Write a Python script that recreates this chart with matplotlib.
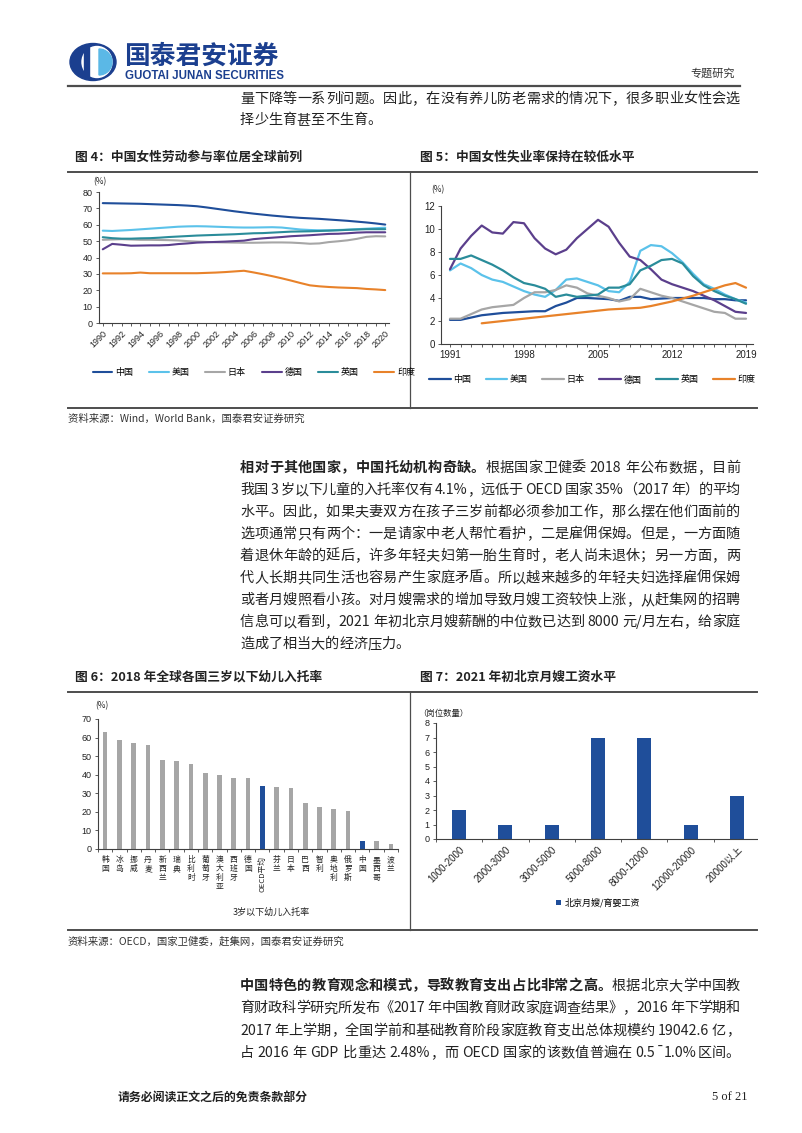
import matplotlib
matplotlib.use("Agg")
import matplotlib.pyplot as plt
from matplotlib.patches import Patch, Rectangle, Ellipse, Wedge
from matplotlib.font_manager import FontProperties, findfont, get_font

plt.rcParams["font.family"] = ["Liberation Sans", "Noto Sans CJK SC", "DejaVu Sans"]
plt.rcParams["axes.unicode_minus"] = False

W, H, DPI = 802, 1133, 100
CJK = ["Noto Sans CJK SC", "DejaVu Sans"]
TXT = "#222222"
NAVY = "#1B3F8F"

# ── 图4：女性劳动参与率 (%) ──────────────────────────────
years4 = list(range(1990, 2021))
china4 = [73.2, 73.1, 73.0, 72.9, 72.8, 72.6, 72.4, 72.2, 72.0, 71.7, 71.3, 70.6, 69.8, 69.0, 68.2,
          67.5, 66.8, 66.2, 65.6, 65.1, 64.6, 64.2, 63.9, 63.6, 63.2, 62.8, 62.4, 61.9, 61.4, 60.8, 60.1]
us4 = [56.4, 56.2, 56.5, 56.8, 57.2, 57.6, 58.0, 58.4, 58.8, 59.0, 59.1, 59.0, 58.8, 58.6, 58.4,
       58.3, 58.3, 58.4, 58.5, 58.3, 57.7, 57.1, 56.8, 56.6, 56.6, 56.8, 57.0, 57.3, 57.6, 57.9, 58.2]
japan4 = [50.8, 51.0, 51.2, 51.0, 50.8, 50.8, 50.7, 50.6, 50.4, 50.0, 49.7, 49.5, 49.3, 49.2, 49.1,
          49.0, 49.0, 49.1, 49.2, 49.2, 49.1, 48.8, 48.4, 48.6, 49.4, 49.9, 50.5, 51.4, 52.6, 53.0, 52.9]
germany4 = [45.0, 48.3, 47.8, 47.2, 47.3, 47.4, 47.4, 47.6, 48.2, 48.6, 49.1, 49.3, 49.5, 49.7, 50.0,
            50.3, 51.2, 51.7, 52.1, 52.5, 53.0, 53.3, 53.6, 54.0, 54.4, 54.5, 54.8, 55.2, 55.4, 55.4, 55.4]
uk4 = [52.4, 51.8, 51.5, 51.5, 51.7, 51.8, 52.1, 52.5, 52.8, 53.1, 53.4, 53.6, 53.8, 54.0, 54.2,
       54.5, 54.8, 54.9, 55.2, 55.5, 55.8, 55.9, 56.0, 56.2, 56.4, 56.6, 56.9, 57.1, 57.3, 57.3, 57.3]
india4 = [30.3, 30.3, 30.3, 30.4, 30.8, 30.4, 30.4, 30.4, 30.4, 30.4, 30.4, 30.6, 30.8, 31.1, 31.5,
          31.9, 30.9, 29.8, 28.6, 27.3, 25.9, 24.4, 23.0, 22.4, 22.0, 21.7, 21.5, 21.3, 20.8, 20.5, 20.1]

# ── 图5：女性失业率 (%) ──────────────────────────────────
years5 = list(range(1991, 2020))
china5 = [2.1, 2.1, 2.3, 2.5, 2.6, 2.7, 2.75, 2.8, 2.85, 2.85, 3.3, 3.6, 4.0, 4.0, 3.95,
          3.9, 3.75, 4.1, 4.1, 3.9, 3.95, 4.0, 4.0, 4.0, 4.0, 3.9, 3.9, 3.8, 3.8]
us5 = [6.4, 7.0, 6.6, 6.0, 5.6, 5.4, 5.0, 4.6, 4.3, 4.1, 4.7, 5.6, 5.7, 5.4, 5.1,
       4.6, 4.5, 5.4, 8.1, 8.6, 8.5, 7.9, 7.1, 6.1, 5.2, 4.8, 4.3, 3.9, 3.6]
japan5 = [2.2, 2.2, 2.6, 3.0, 3.2, 3.3, 3.4, 4.0, 4.5, 4.5, 4.7, 5.1, 4.9, 4.4, 4.2,
          4.0, 3.7, 3.9, 4.8, 4.5, 4.2, 4.0, 3.7, 3.4, 3.1, 2.8, 2.7, 2.2, 2.2]
germany5 = [6.5, 8.3, 9.4, 10.3, 9.7, 9.6, 10.6, 10.5, 9.2, 8.3, 7.8, 8.2, 9.2, 10.0, 10.8,
            10.2, 8.8, 7.6, 7.3, 6.5, 5.6, 5.2, 4.9, 4.6, 4.2, 3.8, 3.3, 2.8, 2.7]
uk5 = [7.4, 7.4, 7.7, 7.3, 6.9, 6.4, 5.8, 5.3, 5.1, 4.8, 4.1, 4.3, 4.1, 4.2, 4.3,
       4.9, 4.9, 5.2, 6.4, 6.8, 7.3, 7.4, 7.0, 5.9, 5.1, 4.6, 4.2, 3.9, 3.5]
years5_india = list(range(1994, 2020))
india5 = [1.8, 1.9, 2.0, 2.1, 2.2, 2.3, 2.4, 2.5, 2.6, 2.7, 2.8, 2.9, 3.0, 3.05, 3.1,
          3.15, 3.3, 3.5, 3.7, 3.95, 4.2, 4.5, 4.8, 5.1, 5.3, 4.9]

# ── 图6：三岁以下幼儿入托率 (%) ──────────────────────────
countries6 = ["韩国", "冰岛", "挪威", "丹麦", "新西兰", "瑞典", "比利时", "葡萄牙", "澳大利亚", "西班牙",
              "德国", "OECD平均", "芬兰", "日本", "巴西", "智利", "奥地利", "俄罗斯", "中国", "墨西哥", "波兰"]
rates6 = [62.8, 58.8, 57.0, 56.0, 47.7, 47.3, 45.7, 41.0, 40.1, 38.3,
          38.0, 33.8, 33.3, 32.6, 24.7, 22.5, 21.8, 20.2, 4.1, 4.2, 2.6]
highlight6 = ["OECD平均", "中国"]

# ── 图7：北京月嫂工资 ────────────────────────────────────
bins7 = ["1000-2000", "2000-3000", "3000-5000", "5000-8000", "8000-12000", "12000-20000", "20000以上"]
counts7 = [2, 1, 1, 7, 7, 1, 3]

C = {"中国": "#1F4E9A", "美国": "#5BC2EA", "日本": "#A6A6A6",
     "德国": "#5B3F8C", "英国": "#2A8C9A", "印度": "#E8822A"}

fig = plt.figure(figsize=(W / DPI, H / DPI), dpi=DPI)
bg = fig.add_axes([0, 0, 1, 1])
bg.set_xlim(0, W)
bg.set_ylim(H, 0)
bg.axis("off")


def panel(l, t, r, b):
    return fig.add_axes([l / W, 1 - b / H, (r - l) / W, (b - t) / H])


def style(ax, size=6.5):
    for s in ("top", "right"):
        ax.spines[s].set_visible(False)
    for s in ("left", "bottom"):
        ax.spines[s].set_color("#404040")
        ax.spines[s].set_linewidth(0.8)
    ax.tick_params(labelsize=size, colors="#404040", labelcolor="#222222",
                   length=2.5, width=0.6, direction="out", pad=2)
    ax.tick_params(which="minor", length=2.5, width=0.6, colors="#404040")
    ax.set_facecolor("none")


def put(x, y, s, size, bold=False, color=TXT, ha="left", va="center", family=None):
    bg.text(x, y, s, fontsize=size, fontweight="bold" if bold else "normal", color=color,
            ha=ha, va=va, family=family or CJK)


# ── 正文两端对齐 ─────────────────────────────────────────
_paths = {}


def adv(s, bold, size):
    if bold not in _paths:
        _paths[bold] = findfont(FontProperties(family="Noto Sans CJK SC",
                                               weight="bold" if bold else "normal"))
    font = get_font(_paths[bold])
    font.set_size(size, 72)
    w = 0
    for ch in s:
        w += font.load_char(ord(ch)).linearHoriAdvance / 65536
    return w * DPI / 72


def tokens(segs):
    out = []
    for s, b in segs:
        for ch in s:
            asc = ch.isascii() and ch != " "
            if asc and out and out[-1][2] and out[-1][1] == b:
                out[-1][0] += ch
            else:
                out.append([ch, b, asc])
    return out


def line(y, segs, size=10.2, x0=240, x1=740, justify=True):
    toks = tokens(segs)
    ws = [adv(t[0], t[1], size) for t in toks]
    gap = (x1 - x0 - sum(ws)) / (len(toks) - 1) if justify and len(toks) > 1 else 0
    x = x0
    for (s, b, _), w in zip(toks, ws):
        if s != " ":
            put(x, y + 5, s, size, bold=b, va="baseline")
        x += w + gap


# ── 页眉 ─────────────────────────────────────────────────
bg.add_patch(Ellipse((93, 62), 46, 37, color=NAVY))
bg.add_patch(Ellipse((97, 62), 30, 31, color="white"))
bg.add_patch(Wedge((99, 62), 13, -90, 90, color="#5BB8E6"))
bg.add_patch(Rectangle((84, 47), 5, 30, color=NAVY))
put(124, 56, "国泰君安证券", 18.5, bold=True, color=NAVY)
put(125, 76, "GUOTAI JUNAN SECURITIES", 8.3, bold=True, color=NAVY,
    family=["Liberation Sans", "DejaVu Sans"])
put(735, 74, "专题研究", 8, color="#333333", ha="right")
bg.plot([68, 740], [86, 86], color="#4d4d4d", lw=1.6)

line(98, [("量下降等一系列问题。因此，在没有养儿防老需求的情况下，很多职业女性会选", False)])
line(119, [("择少生育甚至不生育。", False)], justify=False)

# ── 图4/图5 框 ───────────────────────────────────────────
put(75, 157, "图 4：中国女性劳动参与率位居全球前列", 9.2, bold=True)
put(420, 157, "图 5：中国女性失业率保持在较低水平", 9.2, bold=True)
bg.plot([68, 757], [172, 172], color="#4d4d4d", lw=1.4)
bg.plot([410, 410], [172, 408], color="#4d4d4d", lw=0.9)
bg.plot([68, 757], [408, 408], color="#4d4d4d", lw=1.4)
put(68, 419, "资料来源：Wind，World Bank，国泰君安证券研究", 7.5, color="#333333")

ax4 = panel(99, 192, 389, 323)
for name, vals in [("中国", china4), ("美国", us4), ("日本", japan4),
                   ("德国", germany4), ("英国", uk4), ("印度", india4)]:
    ax4.plot(years4, vals, color=C[name], lw=1.5, label=name, solid_capstyle="round")
ax4.set_xlim(1989.6, 2020.4)
ax4.set_ylim(0, 80)
ax4.set_yticks(range(0, 81, 10))
ax4.set_xticks(years4[::2])
ax4.set_xticklabels([str(y) for y in years4[::2]], rotation=45, ha="right", rotation_mode="anchor")
ax4.set_xticks(years4, minor=True)
style(ax4)
ax4.text(-0.02, 1.06, "(%)", transform=ax4.transAxes, fontsize=6, color=TXT, family=CJK)
ax4.legend(loc="center left", bbox_to_anchor=(-0.05, -0.375), ncol=6, frameon=False,
           prop={"family": CJK, "size": 6.5}, handlelength=2.2, handletextpad=0.3,
           columnspacing=1.75)

ax5 = panel(441, 206, 753, 344)
for name, xs, vals in [("中国", years5, china5), ("美国", years5, us5), ("日本", years5, japan5),
                       ("德国", years5, germany5), ("英国", years5, uk5),
                       ("印度", years5_india, india5)]:
    ax5.plot(xs, vals, color=C[name], lw=1.6, label=name, solid_capstyle="round")
ax5.set_xlim(1990.15, 2019.66)
ax5.set_ylim(0, 12)
ax5.set_yticks(range(0, 13, 2))
ax5.set_xticks([1991, 1998, 2005, 2012, 2019])
ax5.set_xticks(years5, minor=True)
style(ax5, 7)
ax5.text(-0.03, 1.1, "(%)", transform=ax5.transAxes, fontsize=6, color=TXT, family=CJK)
ax5.legend(loc="center left", bbox_to_anchor=(-0.065, -0.26), ncol=6, frameon=False,
           prop={"family": CJK, "size": 6.5}, handlelength=2.4, handletextpad=0.3,
           columnspacing=1.6)

# ── 正文：托幼 ───────────────────────────────────────────
para1 = [
    [("相对于其他国家，中国托幼机构奇缺。", True), ("根据国家卫健委 2018 年公布数据，目前", False)],
    [("我国 3 岁以下儿童的入托率仅有 4.1%，远低于 OECD 国家 35%（2017 年）的平均", False)],
    [("水平。因此，如果夫妻双方在孩子三岁前都必须参加工作，那么摆在他们面前的", False)],
    [("选项通常只有两个：一是请家中老人帮忙看护，二是雇佣保姆。但是，一方面随", False)],
    [("着退休年龄的延后，许多年轻夫妇第一胎生育时，老人尚未退休；另一方面，两", False)],
    [("代人长期共同生活也容易产生家庭矛盾。所以越来越多的年轻夫妇选择雇佣保姆", False)],
    [("或者月嫂照看小孩。对月嫂需求的增加导致月嫂工资较快上涨，从赶集网的招聘", False)],
    [("信息可以看到，2021 年初北京月嫂薪酬的中位数已达到 8000 元/月左右，给家庭", False)],
    [("造成了相当大的经济压力。", False)],
]
for i, segs in enumerate(para1):
    line(467 + 22 * i, segs, justify=i < len(para1) - 1)

# ── 图6/图7 框 ───────────────────────────────────────────
put(75, 677, "图 6：2018 年全球各国三岁以下幼儿入托率", 9.2, bold=True)
put(420, 677, "图 7：2021 年初北京月嫂工资水平", 9.2, bold=True)
bg.plot([68, 757], [692, 692], color="#4d4d4d", lw=1.4)
bg.plot([410, 410], [692, 930], color="#4d4d4d", lw=0.9)
bg.plot([68, 757], [930, 930], color="#4d4d4d", lw=1.4)
put(68, 941, "资料来源：OECD，国家卫健委，赶集网，国泰君安证券研究", 7.5, color="#333333")

ax6 = panel(98, 719, 398, 849)
x6 = list(range(len(countries6)))
ax6.bar(x6, rates6, width=0.33,
        color=[C["中国"] if c in highlight6 else "#A6A6A6" for c in countries6])
ax6.set_xlim(-0.5, len(countries6) - 0.5)
ax6.set_ylim(0, 70)
ax6.set_yticks(range(0, 71, 10))
ax6.set_xticks(x6)
ax6.set_xticklabels([c if c.startswith("OECD") else "\n".join(c) for c in countries6],
                    family=CJK, linespacing=1.15)
for lbl in ax6.get_xticklabels():
    if lbl.get_text().startswith("OECD"):
        lbl.set_rotation(90)
ax6.set_xticks([i - 0.5 for i in range(len(countries6) + 1)], minor=True)
style(ax6)
ax6.tick_params(axis="x", which="major", length=0, labelsize=5.6, pad=5)
ax6.text(-0.01, 1.08, "(%)", transform=ax6.transAxes, fontsize=6, color=TXT, family=CJK)
put(233, 912, "3岁以下幼儿入托率", 6.5)

ax7 = panel(436, 723, 760, 839)
x7 = list(range(len(bins7)))
ax7.bar(x7, counts7, width=0.3, color=C["中国"])
ax7.set_xlim(-0.5, len(bins7) - 0.5)
ax7.set_ylim(0, 8)
ax7.set_yticks(range(0, 9))
ax7.set_xticks(x7)
ax7.set_xticklabels(bins7, rotation=45, ha="right", rotation_mode="anchor")
ax7.set_xticks([i - 0.5 for i in range(len(bins7) + 1)], minor=True)
style(ax7)
ax7.tick_params(axis="x", which="major", length=0, pad=4, labelsize=7)
ax7.text(-0.055, 1.06, "（岗位数量）", transform=ax7.transAxes, fontsize=6, color=TXT, family=CJK)
ax7.legend(handles=[Patch(facecolor=C["中国"], label="北京月嫂/育婴工资")], loc="center",
           bbox_to_anchor=(0.5, -0.55), frameon=False, prop={"family": CJK, "size": 6.5},
           handlelength=0.6, handleheight=0.6, handletextpad=0.4)

# 页面右侧裁切
fig.add_artist(Rectangle((758 / W, 1 - 930 / H), (W - 758) / W, (930 - 172) / H,
                         transform=fig.transFigure, facecolor="white", edgecolor="none", zorder=20))

# ── 正文：教育支出 ───────────────────────────────────────
para2 = [
    [("中国特色的教育观念和模式，导致教育支出占比非常之高。", True), ("根据北京大学中国教", False)],
    [("育财政科学研究所发布《2017 年中国教育财政家庭调查结果》，2016 年下学期和", False)],
    [("2017 年上学期，全国学前和基础教育阶段家庭教育支出总体规模约 19042.6 亿，", False)],
    [("占 2016 年 GDP 比重达 2.48%，而 OECD 国家的该数值普遍在 0.5¯1.0%区间。", False)],
]
for i, segs in enumerate(para2):
    line(985 + 22.3 * i, segs)

# ── 页脚 ─────────────────────────────────────────────────
put(118, 1097, "请务必阅读正文之后的免责条款部分", 8.6, bold=True)
put(712, 1097, "5 of 21", 9, family=["Liberation Serif", "DejaVu Serif"])

fig.savefig("out.png", dpi=DPI)
